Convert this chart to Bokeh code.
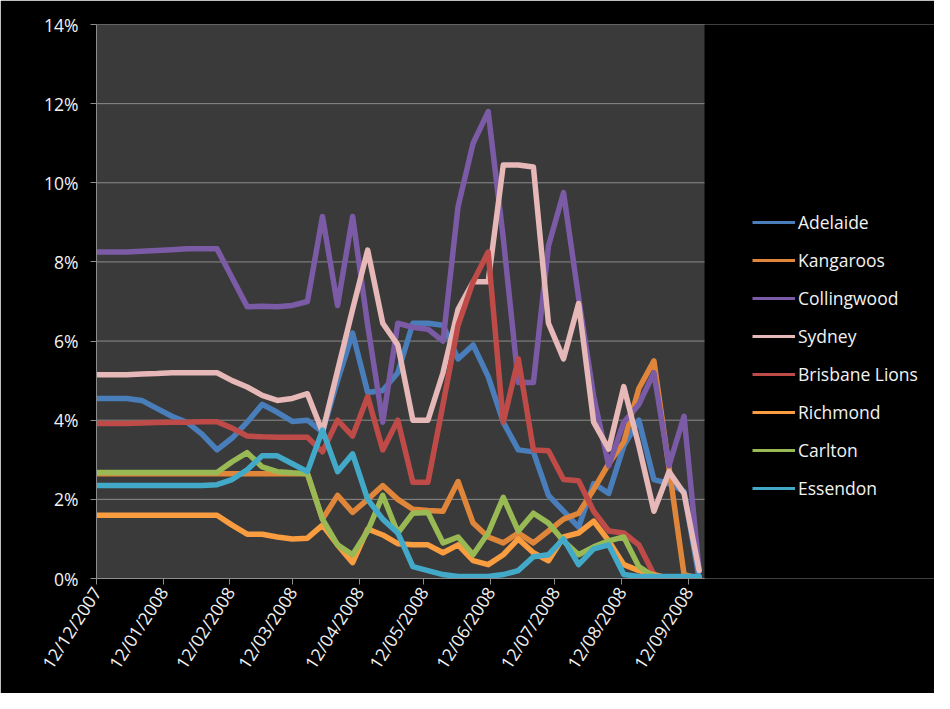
import datetime as dt
from bokeh.plotting import figure
from bokeh.models import (Range1d, FixedTicker, DatetimeTickFormatter, PrintfTickFormatter,
                          Legend, LegendItem, BoxAnnotation)
from bokeh.embed import file_html
from bokeh.resources import INLINE

# ---------------- data ----------------
dates = ["12/12/2007", "19/12/2007", "26/12/2007", "02/01/2008", "09/01/2008", "16/01/2008",
         "23/01/2008", "30/01/2008", "06/02/2008", "13/02/2008", "20/02/2008", "27/02/2008",
         "05/03/2008", "12/03/2008", "19/03/2008", "26/03/2008", "02/04/2008", "09/04/2008",
         "16/04/2008", "23/04/2008", "30/04/2008", "07/05/2008", "14/05/2008", "21/05/2008",
         "28/05/2008", "04/06/2008", "11/06/2008", "18/06/2008", "25/06/2008", "02/07/2008",
         "09/07/2008", "16/07/2008", "23/07/2008", "30/07/2008", "06/08/2008", "13/08/2008",
         "20/08/2008", "27/08/2008", "03/09/2008", "10/09/2008", "17/09/2008"]

tick_labels = ["12/12/2007", "12/01/2008", "12/02/2008", "12/03/2008", "12/04/2008",
               "12/05/2008", "12/06/2008", "12/07/2008", "12/08/2008", "12/09/2008"]

y_ticks = [0, 2, 4, 6, 8, 10, 12, 14]

adelaide = [4.55, 4.55, 4.55, 4.5, 4.3, 4.1, 3.95, 3.65, 3.25, 3.55, 3.95, 4.4, 4.2, 3.97, 4.0,
            3.7, 5.0, 6.2, 4.7, 4.75, 5.2, 6.45, 6.45, 6.4, 5.55, 5.9, 5.1, 3.95, 3.25, 3.2,
            2.1, 1.7, 1.3, 2.4, 2.15, 3.35, 4.0, 2.5, 2.4, 2.2, 0.0]
kangaroos = [2.65, 2.65, 2.65, 2.65, 2.65, 2.65, 2.65, 2.65, 2.65, 2.65, 2.65, 2.65, 2.65, 2.65, 2.65,
             1.5, 2.1, 1.67, 2.0, 2.35, 2.0, 1.75, 1.72, 1.7, 2.45, 1.4, 1.05, 0.9, 1.15, 0.9,
             1.2, 1.5, 1.65, 2.25, 2.9, 3.45, 4.8, 5.5, 2.8, 0.1, 0.0]
collingwood = [8.25, 8.25, 8.25, 8.27, 8.29, 8.31, 8.33, 8.33, 8.33, 7.6, 6.87, 6.88, 6.87, 6.9, 7.0,
               9.15, 6.9, 9.15, 6.4, 3.95, 6.45, 6.35, 6.3, 6.0, 9.4, 11.0, 11.8, 8.6, 4.95, 4.95,
               8.4, 9.75, 7.1, 4.6, 2.85, 3.95, 4.4, 5.2, 2.85, 4.1, 0.2]
sydney = [5.15, 5.15, 5.15, 5.17, 5.18, 5.2, 5.2, 5.2, 5.2, 5.0, 4.84, 4.63, 4.5, 4.55, 4.67,
          3.7, 5.25, 6.8, 8.3, 6.45, 5.9, 4.0, 4.0, 5.2, 6.8, 7.5, 7.5, 10.45, 10.45, 10.4,
          6.45, 5.55, 6.95, 3.95, 3.27, 4.85, 3.35, 1.7, 2.7, 2.15, 0.2]
brisbane = [3.92, 3.92, 3.92, 3.93, 3.94, 3.95, 3.95, 3.96, 3.96, 3.8, 3.6, 3.58, 3.57, 3.57, 3.57,
            3.2, 4.0, 3.6, 4.6, 3.25, 4.0, 2.43, 2.43, 4.4, 6.4, 7.5, 8.25, 3.95, 5.55, 3.25,
            3.23, 2.5, 2.47, 1.7, 1.2, 1.15, 0.85, 0.1, 0.0, 0.0, 0.0]
richmond = [1.6, 1.6, 1.6, 1.6, 1.6, 1.6, 1.6, 1.6, 1.6, 1.35, 1.12, 1.12, 1.05, 1.0, 1.02,
            1.35, 0.85, 0.4, 1.25, 1.1, 0.88, 0.85, 0.85, 0.65, 0.85, 0.45, 0.35, 0.6, 1.0, 0.65,
            0.45, 1.05, 1.15, 1.45, 0.95, 0.35, 0.2, 0.1, 0.0, 0.0, 0.0]
carlton = [2.68, 2.68, 2.68, 2.68, 2.68, 2.68, 2.68, 2.68, 2.68, 2.95, 3.18, 2.82, 2.7, 2.67, 2.65,
           1.5, 0.85, 0.6, 1.2, 2.1, 1.15, 1.65, 1.67, 0.9, 1.05, 0.6, 1.15, 2.05, 1.2, 1.65,
           1.4, 0.95, 0.6, 0.8, 0.95, 1.05, 0.3, 0.05, 0.0, 0.0, 0.0]
essendon = [2.35, 2.35, 2.35, 2.35, 2.35, 2.35, 2.35, 2.35, 2.37, 2.5, 2.75, 3.1, 3.1, 2.9, 2.7,
            3.75, 2.7, 3.15, 2.0, 1.5, 1.15, 0.3, 0.2, 0.1, 0.05, 0.05, 0.05, 0.1, 0.2, 0.55,
            0.6, 1.0, 0.35, 0.75, 0.85, 0.1, 0.05, 0.05, 0.05, 0.05, 0.05]

names = ["Adelaide", "Kangaroos", "Collingwood", "Sydney", "Brisbane Lions",
         "Richmond", "Carlton", "Essendon"]
series = [adelaide, kangaroos, collingwood, sydney, brisbane, richmond, carlton, essendon]
colors = ["#4A7EBB", "#E0863A", "#7B5BA6", "#E6B8B7", "#BE4B48", "#F99D40", "#98B954", "#42AAC8"]

# ---------------- geometry ----------------
def to_dt(s):
    return dt.datetime.strptime(s, "%d/%m/%Y")

xs = [to_dt(s) for s in dates]
epoch = dt.datetime(1970, 1, 1)
def ms(d):
    return (d - epoch).total_seconds() * 1000.0
tick_ms = [ms(to_dt(s)) for s in tick_labels]

W, H = 934, 693
LEFT, TOP, BOTTOM = 96, 24, 115
AREA_W = 608                       # width of the grey plotting area in px
FRAME_W = W - LEFT                 # frame spans legend area too
x_start = to_dt(dates[0])
x_area_end = dt.datetime(2008, 9, 19, 12)
area_days = (x_area_end - x_start).total_seconds() / 86400.0
x_end = x_start + dt.timedelta(days=area_days * FRAME_W / AREA_W)

p = figure(width=W, height=H, x_axis_type="datetime",
           output_backend="svg", toolbar_location=None,
           x_range=Range1d(x_start, x_end), y_range=Range1d(y_ticks[0], y_ticks[-1]),
           min_border_left=LEFT, min_border_right=0, min_border_top=TOP, min_border_bottom=BOTTOM)
p.background_fill_color = "black"
p.border_fill_color = "black"
p.outline_line_color = None

grey = "#8C8C8C"
font = "Open Sans"
txt = "#F2F2F2"
fsize = "17.5px"

# grey plotting area
p.add_layout(BoxAnnotation(left=x_start, right=x_area_end, bottom=y_ticks[0], top=y_ticks[-1],
                           fill_color="#3A3A3A", fill_alpha=1, line_color=None, level="underlay"))

# horizontal gridlines limited to plotting area
p.xgrid.visible = False
p.ygrid.visible = False
p.segment(x0=[x_start] * len(y_ticks), x1=[x_area_end] * len(y_ticks), y0=y_ticks, y1=y_ticks,
          line_color=grey, line_width=1)

# x axis
p.xaxis.ticker = FixedTicker(ticks=tick_ms)
p.xaxis.bounds = (ms(x_start), ms(x_area_end))
fmt = "%d/%m/%Y"
p.xaxis.formatter = DatetimeTickFormatter(microseconds=fmt, milliseconds=fmt, seconds=fmt,
                                          minsec=fmt, minutes=fmt, hourmin=fmt, hours=fmt,
                                          days=fmt, months=fmt, years=fmt)
p.xaxis.major_label_orientation = 1.0
p.xaxis.axis_line_color = grey
p.xaxis.major_tick_line_color = grey
p.xaxis.major_tick_out = 6
p.xaxis.major_tick_in = 0
p.xaxis.minor_tick_line_color = None
p.xaxis.major_label_text_color = txt
p.xaxis.major_label_text_font = font
p.xaxis.major_label_text_font_size = fsize
p.xaxis.major_label_standoff = 4

# y axis
p.yaxis.ticker = FixedTicker(ticks=y_ticks)
p.yaxis.formatter = PrintfTickFormatter(format="%d%%")
p.yaxis.axis_line_color = grey
p.yaxis.major_tick_line_color = grey
p.yaxis.major_tick_out = 6
p.yaxis.major_tick_in = 0
p.yaxis.minor_tick_line_color = None
p.yaxis.major_label_text_color = txt
p.yaxis.major_label_text_font = font
p.yaxis.major_label_text_font_size = fsize
p.yaxis.major_label_standoff = 12

items = []
for name, vals, col in zip(names, series, colors):
    # thin twin (hidden beneath the thick line) used only for the legend swatch
    thin = p.line(xs, vals, line_color=col, line_width=3)
    p.line(xs, vals, line_color=col, line_width=5.5, line_join="round", line_cap="round")
    items.append(LegendItem(label=name, renderers=[thin]))

legend = Legend(items=items, location=(AREA_W + 48, 78),
                background_fill_alpha=0, border_line_color=None,
                label_text_color=txt, label_text_font=font, label_text_font_size=fsize,
                glyph_width=43, glyph_height=24, label_height=24, spacing=14,
                label_standoff=3, padding=10, margin=0)
p.add_layout(legend)

open("out.html", "w").write(file_html(p, INLINE))
